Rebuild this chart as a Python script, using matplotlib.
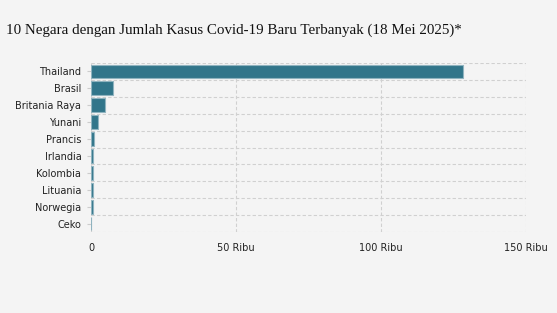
import numpy as np
import matplotlib.pyplot as plt

# data (cases, 18 May 2025)
countries = ["Thailand", "Brasil", "Britania Raya", "Yunani", "Prancis",
             "Irlandia", "Kolombia", "Lituania", "Norwegia", "Ceko"]
cases = [128300, 7700, 4900, 2500, 1000, 700, 650, 600, 600, 150]
xticks = [0, 50000, 100000, 150000]
xtick_labels = ["0", "50 Ribu", "100 Ribu", "150 Ribu"]

bg = "#f4f4f4"
fig = plt.figure(figsize=(5.57, 3.13), dpi=100, facecolor=bg)
ax = fig.add_axes([91 / 557, 1 - 232 / 313, 435 / 557, 169 / 313], facecolor=bg)

y = np.arange(len(countries))
ax.barh(y, cases, height=0.82, color="#31758a", edgecolor="#8fb3bf", linewidth=0.8, zorder=3)

ax.set_ylim(len(countries) - 0.5, -0.5)
ax.set_xlim(0, 150000)
ax.set_yticks(y)
ax.set_yticklabels(countries, fontsize=7, color="#222222")
ax.set_xticks(xticks)
ax.set_xticklabels(xtick_labels, fontsize=7, color="#222222")
ax.tick_params(axis="y", length=3, color="#cccccc", pad=4)
ax.tick_params(axis="x", length=0, pad=8)

# dashed grid: verticals at ticks, horizontals between categories
for xv in xticks:
    ax.axvline(xv, color="#d0d0d0", linestyle=(0, (3, 2)), linewidth=0.8, zorder=1)
for yv in np.arange(-0.5, len(countries), 1):
    ax.axhline(yv, color="#d0d0d0", linestyle=(0, (3, 2)), linewidth=0.8, zorder=1)
for s in ax.spines.values():
    s.set_visible(False)

fig.text(6 / 557, 1 - 30 / 313,
         "10 Negara dengan Jumlah Kasus Covid-19 Baru Terbanyak (18 Mei 2025)*",
         fontsize=10.8, family="Liberation Serif", color="#111111", va="center")

fig.savefig("out.png", dpi=100, facecolor=bg)
